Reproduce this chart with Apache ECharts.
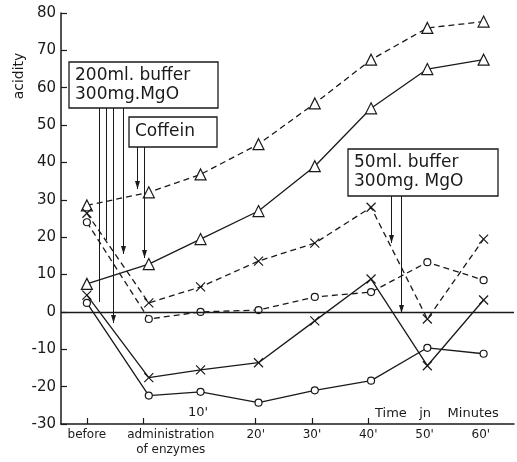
<!DOCTYPE html>
<html>
<head>
<meta charset="utf-8">
<script src="https://cdn.jsdelivr.net/npm/echarts@6/dist/echarts.min.js"></script>
<style>
  html, body { margin: 0; padding: 0; background: #fff; }
  #chart { width: 517px; height: 462px; }
</style>
</head>
<body>
<div id="chart"></div>
<script>
// columns: before, administration of enzymes, 10' .. 60'
var timePos = [0, 1.1, 2.02, 3.05, 4.05, 5.05, 6.05, 7.05]
var tickPos = [0, 1, 3, 4, 5]
var labelPos = [0, 1.49, 3, 4, 5, 6, 7]
var labelText = ['before', 'administration\nof enzymes', "20'", "30'", "40'", "50'", "60'"]

var triDash = [28.5, 32, 36.8, 44.9, 55.8, 67.5, 76, 77.7]
var triSolid = [7.5, 12.8, 19.5, 27, 39, 54.5, 65, 67.5]
var crossDash = [26.4, 2.4, 6.7, 13.6, 18.4, 28, -1.9, 19.5]
var circDash = [24, -1.9, 0, 0.5, 4, 5.3, 13.3, 8.5]
var crossSolid = [4.5, -17.6, -15.5, -13.6, -2.4, 8.8, -14.4, 3.2]
var circSolid = [2.4, -22.4, -21.4, -24.3, -21, -18.4, -9.6, -11.2]

var ink = '#1a1a1a'
var font = 'DejaVu Sans'
var crossPath = 'path://M0,0L10,10M10,0L0,10'

function pairs(vals) {
  return vals.map(function (v, i) { return [timePos[i], v] })
}

function makeSeries(vals, symbol, size, dashed) {
  return {
    type: 'line',
    data: pairs(vals),
    symbol: symbol,
    symbolSize: size,
    showAllSymbol: true,
    z: 3,
    lineStyle: { color: ink, width: 1.3, type: dashed ? [6, 4] : 'solid' },
    itemStyle: { color: '#fff', borderColor: ink, borderWidth: 1.2 },
    emphasis: { disabled: true }
  }
}

// annotation pieces (pixel positions)
function box(x, y, w, h, lines, size) {
  return [
    { type: 'rect', shape: { x: x, y: y, width: w, height: h },
      style: { fill: '#fff', stroke: ink, lineWidth: 1.3 }, z: 10 },
    { type: 'text', x: x + 6, y: y + h / 2, z: 11,
      style: { text: lines, font: size + 'px "' + font + '"', fill: ink,
        verticalAlign: 'middle', lineHeight: size + 2 } }
  ]
}
function drop(x, y0, y1, arrow) {
  x += 0.5
  var els = [{ type: 'line', shape: { x1: x, y1: y0, x2: x, y2: y1 },
    style: { stroke: ink, lineWidth: 1 }, z: 9 }]
  if (arrow) {
    els.push({ type: 'polygon', shape: { points: [[x - 2.5, y1 - 8], [x + 2.5, y1 - 8], [x, y1]] },
      style: { fill: ink }, z: 9 })
  }
  return els
}

var graphics = [].concat(
  drop(99, 108, 302, false), drop(106, 108, 240, false),
  drop(113, 108, 323, true), drop(123, 108, 254, true),
  box(69, 62, 149, 46, '200ml. buffer\n300mg.MgO', 17),
  drop(137, 147, 189, true), drop(144, 147, 258, true),
  box(129, 117, 88, 30, 'Coffein', 17),
  drop(391, 196, 243, true), drop(401, 196, 313, true),
  box(348, 149, 150, 47, '50ml. buffer\n300mg. MgO', 17),
  [
    { type: 'text', x: 19, y: 76, rotation: Math.PI / 2, z: 11,
      style: { text: 'acidity', font: '14px "' + font + '"', fill: ink,
        align: 'center', verticalAlign: 'middle' } },
    { type: 'text', x: 198, y: 413, z: 11,
      style: { text: "10'", font: '13px "' + font + '"', fill: ink,
        align: 'center', verticalAlign: 'middle' } },
    { type: 'text', x: 375, y: 414, z: 11,
      style: { text: 'Time   jn    Minutes', font: '13px "' + font + '"', fill: ink,
        verticalAlign: 'middle' } }
  ]
)

var series = [
  makeSeries(triDash, 'triangle', 11, true),
  makeSeries(triSolid, 'triangle', 11, false),
  makeSeries(crossDash, crossPath, 9, true),
  makeSeries(circDash, 'circle', 7, true),
  makeSeries(crossSolid, crossPath, 9, false),
  makeSeries(circSolid, 'circle', 7, false)
]
series[0].markLine = {
  silent: true,
  symbol: 'none',
  label: { show: false },
  lineStyle: { color: ink, width: 1.3, type: 'solid' },
  data: [{ yAxis: 0 }]
}

var chart = echarts.init(document.getElementById('chart'))
chart.setOption({
  animation: false,
  backgroundColor: '#fff',
  grid: { left: 61, right: 3, top: 13, bottom: 38 },
  xAxis: {
    type: 'value',
    min: -0.46,
    max: 7.59,
    splitLine: { show: false },
    axisLine: { onZero: false, lineStyle: { color: ink, width: 1.5 } },
    axisTick: { show: true, inside: true, length: 6, lineStyle: { color: ink, width: 1.2 },
      customValues: tickPos },
    axisLabel: {
      customValues: labelPos,
      hideOverlap: false,
      showMinLabel: true,
      showMaxLabel: true,
      formatter: function (v) {
        var i = labelPos.indexOf(v)
        return i < 0 ? '' : labelText[i]
      },
      color: ink, fontFamily: font, fontSize: 12, margin: 3, lineHeight: 15
    }
  },
  yAxis: {
    type: 'value',
    min: -30,
    max: 80,
    interval: 10,
    splitLine: { show: false },
    axisLine: { show: true, onZero: false, lineStyle: { color: ink, width: 1.5 } },
    axisTick: { show: true, inside: true, length: 6, lineStyle: { color: ink, width: 1.2 } },
    axisLabel: { color: ink, fontFamily: font, fontSize: 15, margin: 5 }
  },
  series: series,
  graphic: graphics
})
</script>
</body>
</html>
